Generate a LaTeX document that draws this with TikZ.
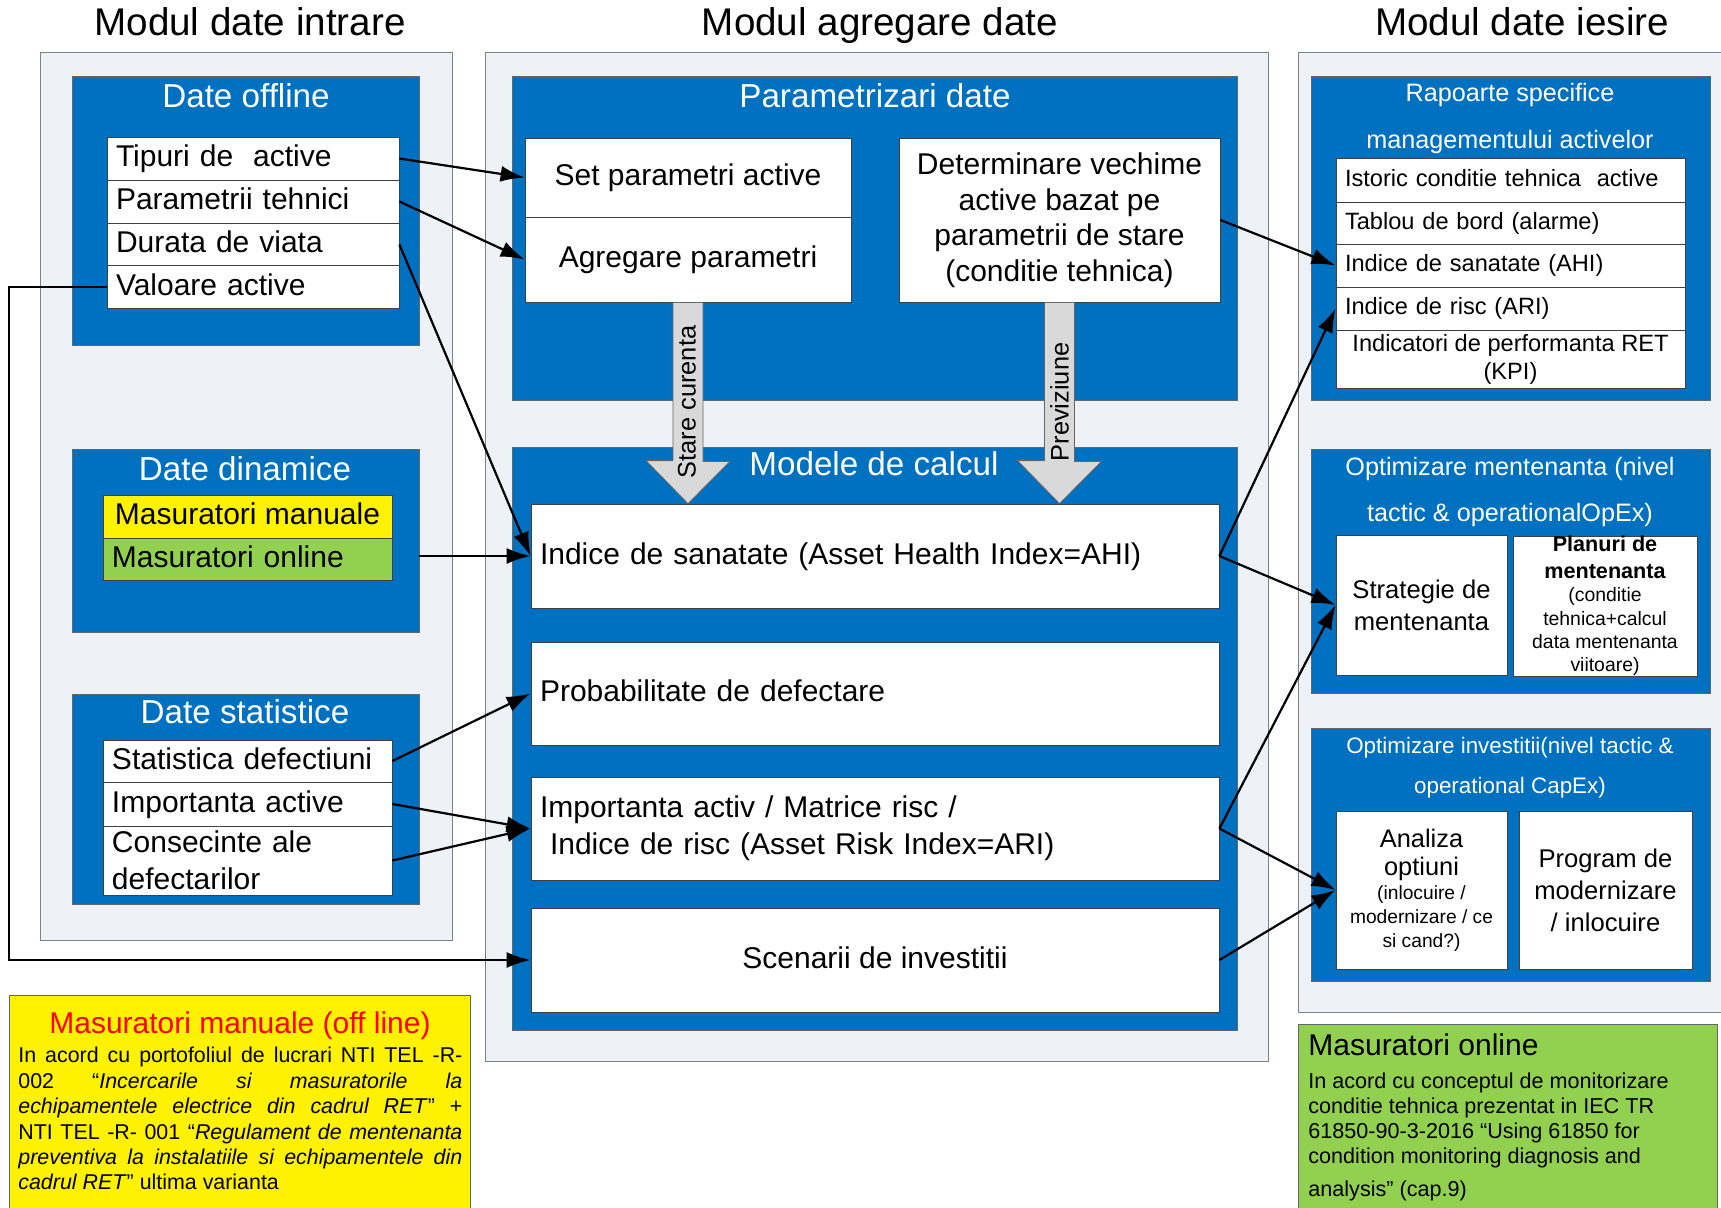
\documentclass[tikz,border=0pt]{standalone}
\usepackage[svgnames]{xcolor}
\usepackage{tikz}
\usetikzlibrary{arrows.meta}
\usepackage{fontspec}
\setmainfont{Liberation Sans}
\definecolor{zonegray}{HTML}{EEF1F6}
\definecolor{zoneblue}{HTML}{0070C0}
\definecolor{mangreen}{HTML}{92D050}
\definecolor{arrowgray}{HTML}{D9D9D9}

\begin{document}
\begin{tikzpicture}[x=0.5pt,y=-0.5pt,>={Latex[length=12pt,width=8pt]},
  zone/.style={draw=gray,fill=zonegray},
  bluezone/.style={draw=black!60,fill=zoneblue},
  ztitle/.style={text=white,font=\fontsize{16.6}{20}\selectfont,anchor=base},
  cell/.style={draw=black!75,fill=white,inner sep=0pt,font=\fontsize{15}{18.5}\selectfont},
  lcell/.style={cell,inner xsep=4.5pt,align=left},
  oneline/.style={text height=11.25pt,text depth=3pt},
  rrow/.style={lcell,text width=165.5pt,font=\fontsize{11.8}{14}\selectfont,text height=8.85pt,text depth=2.4pt},
  link/.style={->,line width=1.1pt},
  bigarrow/.style={draw=black!60,fill=arrowgray},
]
\fill[white] (0,0) rectangle (1721,1207);
\useasboundingbox (0,0) rectangle (1721,1207);

% column titles
\node[anchor=base,font=\fontsize{19.3}{23}\selectfont] (tin) at (250,35) {Modul date intrare};
\node[anchor=base,font=\fontsize{19.3}{23}\selectfont] (tagg) at (880,35) {Modul agregare date};
\node[anchor=base,font=\fontsize{19.3}{23}\selectfont] (tout) at (1522,35) {Modul date iesire};

% input module
\node[zone,minimum width=206pt,minimum height=444pt] (inzone) at (246,496) {};
\node[bluezone,minimum width=173.5pt,minimum height=134.5pt] (offline) at (245.5,210.5) {};
\node[ztitle] (offtitle) at (246,107) {Date offline};
\node[lcell,oneline,text width=137pt,minimum height=21.5pt] (tip) at (253,158.5) {Tipuri de~ active};
\node[lcell,oneline,text width=137pt,minimum height=21.5pt] (par) at (253,201.5) {Parametrii tehnici};
\node[lcell,oneline,text width=137pt,minimum height=21.5pt] (dur) at (253,244.5) {Durata de viata};
\node[lcell,oneline,text width=137pt,minimum height=21.5pt] (val) at (253,287) {Valoare active};

\node[bluezone,minimum width=173.5pt,minimum height=91.5pt] (dyn) at (245.5,540.5) {};
\node[ztitle] (dyntitle) at (245,480) {Date dinamice};
\node[cell,oneline,fill=yellow,minimum width=144.5pt,minimum height=21.5pt] (manual) at (247.5,516.5) {Masuratori manuale};
\node[lcell,oneline,fill=mangreen,text width=135.5pt,minimum height=21pt] (online) at (247.5,559) {Masuratori online};

\node[bluezone,minimum width=173.5pt,minimum height=105pt] (stat) at (245.5,799) {};
\node[ztitle] (stattitle) at (245,723) {Date statistice};
\node[lcell,oneline,text width=135.5pt,minimum height=21pt] (sdef) at (247.5,761) {Statistica defectiuni};
\node[lcell,oneline,text width=135.5pt,minimum height=22pt] (simp) at (247.5,804) {Importanta active};
\node[lcell,text width=135.5pt,minimum height=34.5pt] (scons) at (247.5,860.5) {Consecinte ale\\defectarilor};

% aggregation module
\node[zone,minimum width=391.5pt,minimum height=504.5pt] (aggzone) at (876.5,556.5) {};
\node[bluezone,minimum width=362.5pt,minimum height=162pt] (param) at (874.5,238) {};
\node[ztitle] (paramtitle) at (875,107) {Parametrizari date};
\node[cell,oneline,minimum width=163pt,minimum height=39.5pt] (setp) at (688,177.5) {Set parametri active};
\node[cell,oneline,minimum width=163pt,minimum height=42.5pt] (agreg) at (688,259.5) {Agregare parametri};
\node[cell,align=center,minimum width=160.5pt,minimum height=82pt,font=\fontsize{15}{17.75}\selectfont] (deter) at (1059.5,220)
  {Determinare vechime\\active bazat pe\\parametrii de stare\\(conditie tehnica)};

\node[bluezone,minimum width=362.5pt,minimum height=291.5pt] (models) at (874.5,738.5) {};
\node[ztitle] (modtitle) at (874,475) {Modele de calcul};
\node[lcell,oneline,text width=335pt,minimum height=52pt] (ahi) at (875,556) {Indice de sanatate (Asset Health Index=AHI)};
\node[lcell,oneline,text width=335pt,minimum height=51.5pt] (prob) at (875,693.5) {Probabilitate de defectare};
\node[lcell,text width=335pt,minimum height=51.5pt] (imp) at (875,828.5) {Importanta activ / Matrice risc /\\~Indice de risc (Asset Risk Index=ARI)};
\node[cell,oneline,minimum width=344pt,minimum height=52pt] (scen) at (875,960) {Scenarii de investitii};

% output module
\node[zone,minimum width=216pt,minimum height=480pt] (outzone) at (1514,532) {};
\node[bluezone,minimum width=199.5pt,minimum height=162pt] (reports) at (1510.5,238) {};
\node[text=white,align=center,font=\fontsize{12.6}{23.5}\selectfont] (reptitle) at (1510,118) {Rapoarte specifice\\managementului activelor};
\node[rrow,minimum height=22pt] (r1) at (1510.5,180) {Istoric conditie tehnica~ active};
\node[rrow,minimum height=21pt] (r2) at (1510.5,223) {Tablou de bord (alarme)};
\node[rrow,minimum height=21.5pt] (r3) at (1510.5,265.5) {Indice de sanatate (AHI)};
\node[rrow,minimum height=21.5pt] (r4) at (1510.5,308.5) {Indice de risc (ARI)};
\node[cell,align=center,minimum width=174.5pt,minimum height=29pt,font=\fontsize{11.8}{14}\selectfont] (r5) at (1510.5,359) {Indicatori de performanta RET\\(KPI)};

\node[bluezone,minimum width=199.5pt,minimum height=122pt] (maint) at (1510.5,571) {};
\node[text=white,align=center,font=\fontsize{12.6}{23}\selectfont] (mainttitle) at (1510,491.5) {Optimizare mentenanta (nivel\\tactic \& operationalOpEx)};
\node[cell,align=center,minimum width=85.5pt,minimum height=70pt,font=\fontsize{12.8}{16}\selectfont] (strat) at (1421.5,605) {Strategie de\\mentenanta};
\node[cell,align=center,minimum width=92pt,minimum height=70pt,font=\fontsize{9.7}{11.7}\selectfont] (plans) at (1605,606)
  {{\fontsize{10.8}{13}\selectfont\bfseries Planuri de}\\[1.5pt]{\fontsize{10.8}{13}\selectfont\bfseries mentenanta}\\(conditie\\tehnica+calcul\\data mentenanta\\viitoare)};

\node[bluezone,minimum width=199.5pt,minimum height=126.5pt] (invest) at (1510.5,854.5) {};
\node[text=white,align=center,font=\fontsize{11.2}{20}\selectfont] (invtitle) at (1510,767.5) {Optimizare investitii(nivel tactic \&\\operational CapEx)};
\node[cell,align=center,minimum width=85.5pt,minimum height=79pt,font=\fontsize{9.6}{12}\selectfont] (anal) at (1421.5,890)
  {{\fontsize{12.7}{15}\selectfont Analiza}\\[2pt]{\fontsize{12.7}{15}\selectfont optiuni}\\(inlocuire /\\modernizare / ce\\si cand?)};
\node[cell,align=center,minimum width=86.5pt,minimum height=79pt,font=\fontsize{12.8}{16}\selectfont] (prog) at (1605.5,890) {Program de\\modernizare\\/ inlocuire};

% block arrows
\draw[bigarrow] ([xshift=-7.5pt]agreg.south) -- ++(30,0) -- ++(0,159) -- ++(27,0) -- (agreg.south |- ahi.north) -- ++(-42,-43) -- ++(27,0) -- cycle;
\draw[bigarrow] ([xshift=-7.5pt]deter.south) -- ++(30,0) -- ++(0,159) -- ++(27,0) -- (deter.south |- ahi.north) -- ++(-42,-43) -- ++(27,0) -- cycle;
\node[rotate=90,font=\fontsize{12.7}{15}\selectfont] (starelbl) at (687,402) {Stare curenta};
\node[rotate=90,font=\fontsize{12.7}{15}\selectfont] (prevlbl) at (1059.5,402) {Previziune};

% connectors
\draw[link] (tip.east) -- (setp.west);
\draw[link] (par.east) -- (agreg.west);
\draw[link] (dur.east) -- (ahi.west);
\draw[link] (val.west) -- ++(-98,0) |- (scen.west);
\draw[link] (dyn.east |- ahi.west) -- (ahi.west);
\draw[link] (sdef.east) -- (prob.west);
\draw[link] (simp.east) -- (imp.west);
\draw[link] (scons.east) -- (imp.west);
\draw[link] (deter.east) -- (r3.west);
\draw[link] (ahi.east) -- (r4.west);
\draw[link] (ahi.east) -- (strat.west);
\draw[link] (imp.east) -- (strat.west);
\draw[link] (imp.east) -- (anal.west);
\draw[link] (scen.east) -- (anal.west);

% notes
\node[draw=black!60,fill=yellow,minimum width=230.5pt,minimum height=110pt] (mannote) at (239.5,1105) {};
\node[anchor=base,text=red,font=\fontsize{15}{18}\selectfont] (mantitle) at (240,1033) {Masuratori manuale (off line)};
\node[anchor=north west,inner sep=0pt,text width=222pt,align=justify,font=\fontsize{10.7}{12.7}\selectfont] (mantext) at (18,1047)
  {In acord cu portofoliul de lucrari NTI TEL -R-\linebreak 002 “\textit{Incercarile si masuratorile la}\linebreak \textit{echipamentele electrice din cadrul RET}” +\linebreak NTI TEL -R- 001 “\textit{Regulament de mentenanta}\linebreak \textit{preventiva la instalatiile si echipamentele din}\linebreak \textit{cadrul RET}” ultima varianta};

\node[draw=black!60,fill=mangreen,minimum width=209.5pt,minimum height=95.5pt] (onnote) at (1507.5,1119.5) {};
\node[anchor=base west,inner sep=0pt,font=\fontsize{15}{18}\selectfont] (ontitle) at (1308,1055) {Masuratori online};
\node[anchor=north west,inner sep=0pt,align=left,font=\fontsize{10.8}{12.5}\selectfont] (ontext) at (1308,1072)
  {In acord cu conceptul de monitorizare\\conditie tehnica prezentat in IEC TR\\61850-90-3-2016 “Using 61850 for\\condition monitoring diagnosis and\\[4pt]analysis” (cap.9)};
\end{tikzpicture}
\end{document}
